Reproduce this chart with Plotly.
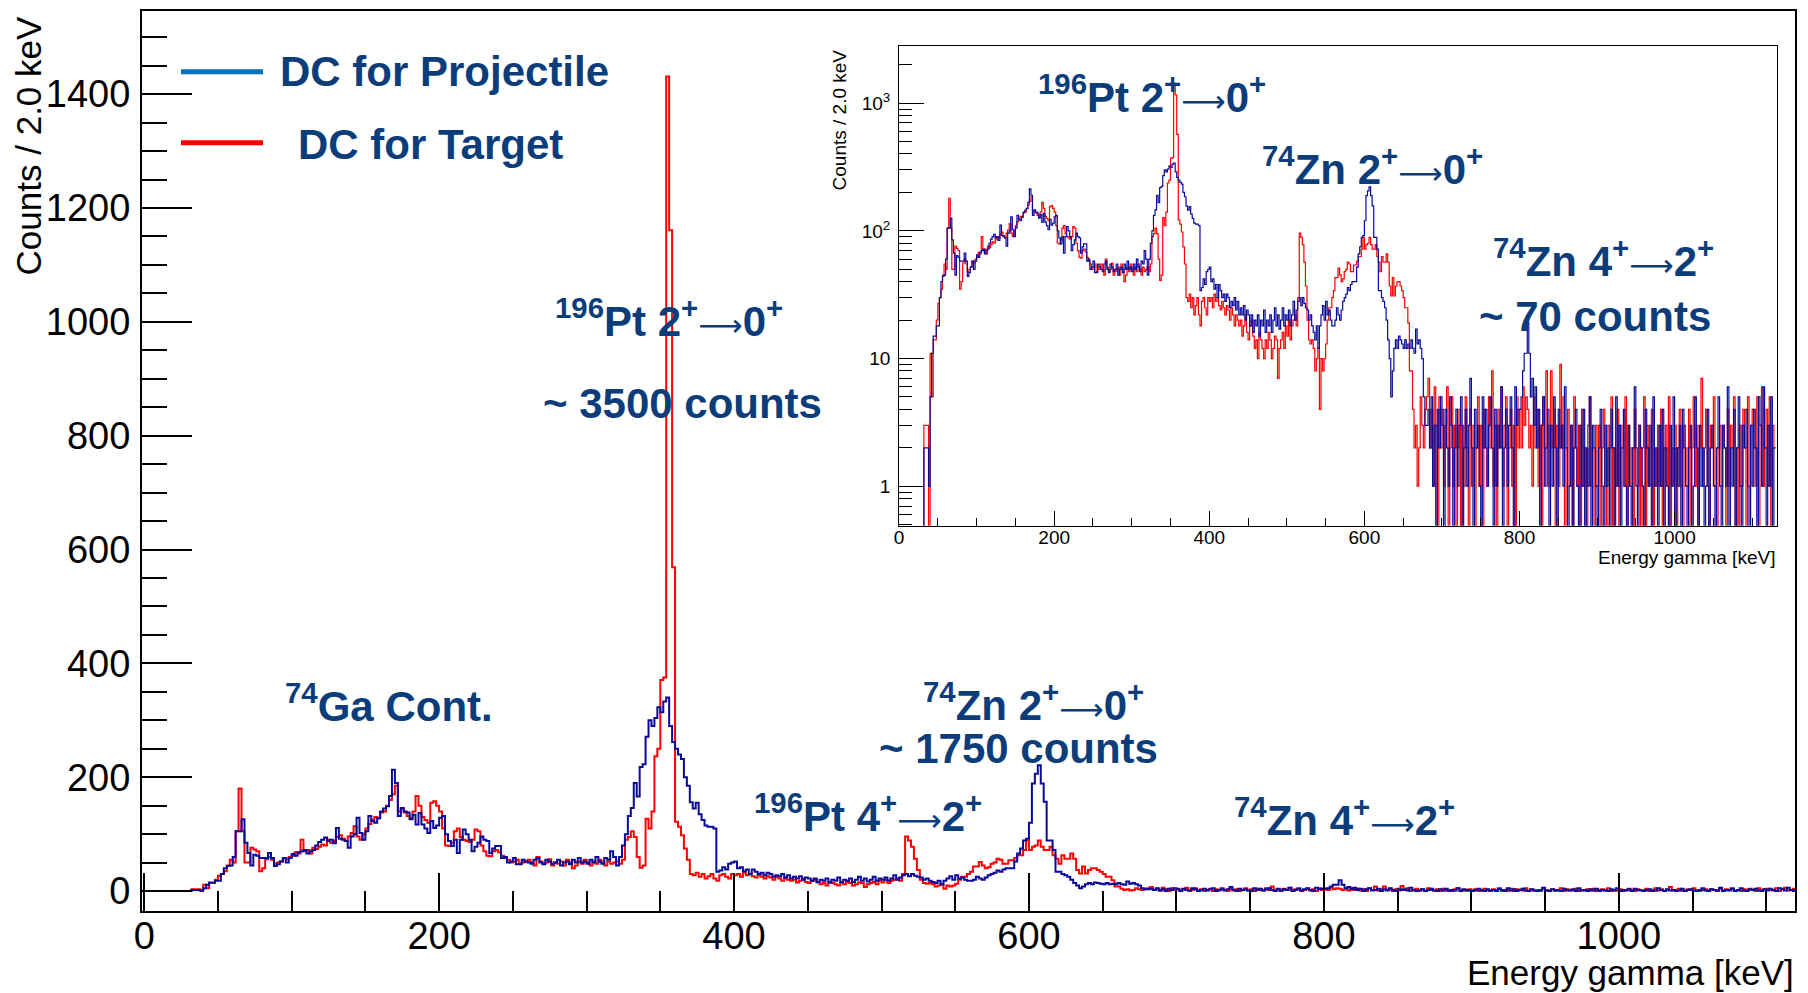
import plotly.graph_objects as go

# ---------------- data (2 keV bins, 0 .. 1130 keV) ----------------
BIN_KEV = 2
# DC for Projectile (blue)
projectile = [
    0, 0, 0, 0, 0, 0, 0, 0, 0, 0,
    0, 0, 0, 0, 0, 0, 2, 2, 2, 1,
    5, 11, 15, 15, 18, 18, 30, 40, 44, 45,
    60, 105, 105, 126, 85, 67, 45, 64, 62, 58,
    58, 58, 67, 58, 44, 47, 52, 58, 50, 58,
    65, 62, 68, 70, 72, 66, 70, 72, 80, 86,
    90, 94, 88, 90, 84, 111, 92, 90, 88, 76,
    96, 100, 129, 102, 90, 105, 132, 123, 120, 128,
    140, 145, 149, 167, 213, 190, 132, 146, 140, 138,
    126, 134, 117, 137, 117, 110, 102, 123, 111, 115,
    129, 132, 100, 88, 79, 90, 67, 90, 108, 100,
    90, 70, 78, 85, 96, 90, 88, 67, 75, 79,
    79, 58, 60, 50, 52, 58, 47, 47, 55, 52,
    50, 48, 55, 58, 50, 47, 55, 52, 48, 50,
    55, 45, 50, 52, 47, 55, 50, 58, 50, 52,
    48, 55, 50, 60, 52, 48, 58, 55, 70, 60,
    45, 60, 80, 100, 132, 146, 190, 166, 218, 223,
    271, 300, 290, 304, 323, 314, 333, 340, 290, 262,
    250, 240, 232, 200, 185, 156, 145, 155, 135, 125,
    115, 113, 113, 110, 34, 36, 42, 38, 48, 50,
    52, 40, 42, 35, 38, 30, 38, 34, 30, 32,
    28, 32, 30, 25, 28, 26, 30, 24, 28, 22,
    25, 22, 26, 20, 24, 22, 18, 22, 16, 20,
    18, 22, 15, 20, 18, 24, 16, 20, 18, 22,
    16, 20, 25, 18, 22, 17, 20, 25, 18, 22,
    20, 24, 18, 22, 28, 20, 24, 28, 30, 26,
    30, 27, 25, 24, 20, 22, 18, 16, 14, 18,
    12, 18, 22, 26, 20, 28, 22, 24, 20, 18,
    18, 20, 25, 22, 20, 24, 28, 30, 32, 36,
    34, 38, 40, 40, 40, 52, 66, 75, 89, 92,
    120, 189, 206, 221, 189, 157, 89, 89, 72, 34,
    34, 30, 28, 25, 20, 14, 10, 5, 8, 12,
    14, 12, 15, 14, 13, 12, 14, 12, 13, 12,
    14, 12, 11, 17, 13, 14, 12, 10, 5, 3,
    3, 4, 2, 5, 1, 3, 0, 4, 2, 5,
    3, 0, 4, 2, 1, 5, 3, 0, 2, 4,
    1, 3, 5, 0, 2, 4, 1, 3, 7, 2,
    0, 4, 2, 3, 1, 0, 5, 2, 4, 1,
    3, 5, 2, 0, 4, 1, 3, 2, 6, 0,
    2, 4, 1, 3, 5, 2, 0, 6, 3, 4,
    4, 5, 8, 11, 11, 19, 11, 5, 7, 3,
    6, 2, 4, 0, 3, 5, 1, 2, 4, 0,
    3, 1, 5, 2, 0, 4, 2, 3, 1, 6,
    2, 0, 1, 3, 0, 2, 4, 1, 0, 3,
    1, 4, 0, 2, 1, 5, 0, 3, 2, 1,
    0, 2, 4, 1, 0, 3, 1, 2, 0, 4,
    2, 0, 5, 1, 3, 0, 2, 4, 1, 0,
    3, 1, 0, 2, 6, 1, 0, 3, 2, 1,
    0, 4, 2, 1, 3, 0, 5, 1, 2, 0,
    3, 1, 4, 0, 2, 1, 0, 3, 1, 5,
    0, 2, 1, 3, 0, 4, 2, 1, 0, 2,
    3, 0, 1, 5, 2, 0, 3, 1, 2, 0,
    1, 4, 0, 2, 3, 1, 0, 2, 5, 1,
    0, 3, 2, 1, 6, 0, 2, 1, 4, 0,
    2, 5, 1, 0, 3, 2, 4, 1, 0, 3,
    1, 4, 2, 0, 5, 3, 1, 6, 2, 0,
    3, 1, 5, 0, 2,
]
# DC for Target (red)
target = [
    0, 0, 0, 0, 0, 0, 0, 0, 0, 0,
    0, 0, 0, 0, 0, 0, 3, 3, 3, 0,
    11, 5, 14, 14, 20, 27, 30, 35, 45, 55,
    50, 105, 180, 105, 50, 50, 76, 73, 70, 35,
    40, 56, 60, 55, 48, 50, 52, 58, 56, 60,
    62, 68, 66, 90, 70, 72, 66, 76, 74, 78,
    82, 80, 90, 85, 88, 95, 98, 92, 88, 96,
    102, 114, 96, 90, 100, 110, 118, 125, 130, 128,
    138, 140, 150, 160, 170, 185, 140, 145, 138, 132,
    128, 140, 167, 150, 130, 125, 120, 155, 158, 150,
    140, 110, 80, 79, 85, 105, 110, 95, 90, 88,
    86, 90, 108, 105, 80, 70, 62, 61, 70, 72,
    68, 62, 58, 55, 50, 52, 55, 48, 50, 52,
    55, 50, 45, 60, 52, 48, 50, 56, 45, 50,
    48, 52, 45, 55, 50, 40, 45, 52, 48, 55,
    50, 45, 52, 48, 55, 50, 45, 52, 48, 50,
    52, 48, 55, 90, 95, 105, 95, 60, 41, 45,
    127, 110, 140, 237, 250, 371, 375, 1431, 1161, 569,
    122, 113, 98, 75, 55, 30, 28, 32, 25, 30,
    22, 26, 30, 22, 18, 28, 30, 25, 22, 30,
    28, 30, 25, 32, 28, 30, 26, 24, 28, 25,
    22, 26, 24, 20, 25, 22, 18, 22, 20, 18,
    20, 15, 18, 22, 16, 14, 18, 20, 15, 12,
    14, 10, 16, 14, 12, 10, 14, 12, 16, 14,
    10, 12, 15, 14, 7, 12, 14, 16, 12, 18,
    15, 20, 14, 18, 20, 22, 18, 30, 96, 89,
    78, 57, 37, 20, 14, 13, 14, 12, 8, 10,
    12, 4, 10, 8, 10, 13, 20, 25, 25, 30,
    34, 43, 43, 51, 45, 40, 42, 48, 50, 57,
    55, 48, 48, 54, 54, 58, 63, 63, 72, 89,
    72, 78, 80, 89, 78, 72, 72, 78, 63, 57,
    48, 63, 57, 57, 66, 57, 37, 31, 43, 31,
    37, 40, 40, 37, 34, 30, 25, 25, 19, 8,
    8, 4, 2, 3, 1, 2, 5, 3, 2, 4,
    5, 7, 2, 4, 1, 6, 3, 0, 5, 2,
    4, 1, 3, 6, 0, 2, 5, 1, 3, 0,
    2, 4, 0, 3, 1, 5, 2, 0, 4, 1,
    3, 0, 2, 5, 1, 3, 0, 4, 2, 1,
    5, 2, 8, 1, 3, 0, 4, 2, 6, 1,
    3, 5, 0, 2, 4, 1, 3, 0, 5, 2,
    4, 2, 6, 3, 5, 4, 2, 3, 1, 5,
    2, 4, 1, 3, 0, 5, 2, 8, 1, 3,
    8, 2, 4, 0, 3, 1, 9, 2, 5, 0,
    2, 4, 1, 3, 0, 5, 2, 1, 3, 0,
    4, 1, 2, 0, 3, 5, 1, 2, 0, 3,
    1, 3, 0, 2, 4, 1, 0, 3, 2, 5,
    0, 2, 1, 4, 0, 3, 2, 1, 5, 0,
    3, 1, 2, 0, 4, 2, 1, 3, 0, 2,
    5, 0, 3, 1, 2, 4, 0, 2, 1, 3,
    1, 4, 0, 2, 3, 1, 5, 0, 2, 1,
    3, 0, 2, 4, 1, 0, 3, 2, 1, 4,
    0, 2, 5, 1, 3, 0, 2, 7, 1, 2,
    4, 1, 0, 3, 2, 5, 1, 0, 2, 3,
    1, 3, 2, 0, 4, 1, 3, 2, 5, 0,
    2, 0, 3, 1, 4, 2, 0, 5, 1, 3,
    4, 2, 1, 5, 0, 3, 6, 1, 2, 4,
    1, 5, 0, 3, 2,
]

main_xticks = [0, 200, 400, 600, 800, 1000]
inset_yticks = [1, 10, 100, 1000]
inset_yticktext = ["1", "10", "10<sup>2</sup>", "10<sup>3</sup>"]
inset_yminor = [m * d for d in (0.1, 1, 10, 100, 1000) for m in range(2, 10)]

BLUE_H = "#0a0a9a"
RED_H = "#ff0000"
TXT = "#0b3d7a"
FONT = "Liberation Sans, Arial, Helvetica, sans-serif"
ARROW = '<span style="font-family:DejaVu Sans;font-weight:normal;font-size:31px">⟶</span>'


def steps(vals):
    edges = [i * BIN_KEV for i in range(len(vals) + 1)]
    return edges, list(vals) + [vals[-1]]


fig = go.Figure()
for vals, col in ((target, RED_H), (projectile, BLUE_H)):
    xs, ys = steps(vals)
    fig.add_trace(go.Scatter(x=xs, y=ys, mode="lines", line=dict(shape="hv", color=col, width=2),
                             xaxis="x", yaxis="y", hoverinfo="skip", showlegend=False))
for vals, col in ((target, RED_H), (projectile, BLUE_H)):
    xs, ys = steps(vals)
    ys = [v if v > 0 else 0.1 for v in ys]
    fig.add_trace(go.Scatter(x=xs, y=ys, mode="lines", line=dict(shape="hv", color=col, width=1.2),
                             xaxis="x2", yaxis="y2", hoverinfo="skip", showlegend=False))

axcommon = dict(showgrid=False, zeroline=False, showline=True, linecolor="black", mirror=True,
                ticks="inside", tickcolor="black")

fig.update_layout(
    width=1808, height=993,
    margin=dict(l=142, r=13, t=9, b=82),
    paper_bgcolor="white", plot_bgcolor="white",
    font=dict(family=FONT, color="black"),
    showlegend=False,
    xaxis=dict(**axcommon, range=[-1.5, 1119.5], tickvals=main_xticks, ticklen=38, tickwidth=2,
               linewidth=2, tickfont=dict(size=38), ticklabelstandoff=-10,
               minor=dict(ticks="inside", dtick=50, tick0=0, ticklen=20, tickwidth=2, tickcolor="black")),
    yaxis=dict(**axcommon, range=[-35, 1546], tick0=0, dtick=200, ticklen=50, tickwidth=2,
               linewidth=2, tickfont=dict(size=38), ticklabelstandoff=2,
               minor=dict(ticks="inside", dtick=50, tick0=0, ticklen=25, tickwidth=2, tickcolor="black")),
    xaxis2=dict(**axcommon, domain=[0.458, 0.9891], anchor="y2", range=[0, 1132], tickvals=main_xticks,
                ticklen=15, tickwidth=1, linewidth=1, tickfont=dict(size=19), ticklabelstandoff=-6,
                minor=dict(ticks="inside", dtick=50, tick0=0, ticklen=8, tickwidth=1, tickcolor="black")),
    yaxis2=dict(**axcommon, domain=[0.428, 0.961], anchor="x2", type="log", range=[-0.31, 3.447],
                tickvals=inset_yticks, ticktext=inset_yticktext, ticklen=25, tickwidth=1, linewidth=1,
                tickfont=dict(size=19), ticklabelstandoff=4,
                minor=dict(ticks="inside", tickvals=inset_yminor, ticklen=13, tickwidth=1, tickcolor="black")),
)

ann = []
# axis titles
ann.append(dict(text="Counts / 2.0 keV", xref="paper", yref="paper", x=-0.0684, y=0.9967,
                xanchor="center", yanchor="top", textangle=-90, showarrow=False,
                font=dict(size=35, color="black")))
ann.append(dict(text="Energy gamma [keV]", xref="paper", yref="paper", x=1.0, y=-0.0679,
                xanchor="right", yanchor="middle", showarrow=False, borderpad=0,
                font=dict(size=35, color="black")))
ann.append(dict(text="Counts / 2.0 keV", xref="paper", yref="paper", x=0.4217, y=0.959,
                xanchor="center", yanchor="top", textangle=-90, showarrow=False,
                font=dict(size=19, color="black")))
ann.append(dict(text="Energy gamma [keV]", xref="paper", yref="paper", x=0.9891, y=0.3925,
                xanchor="right", yanchor="middle", showarrow=False, font=dict(size=19, color="black")))

bold = dict(size=42, color=TXT, family="Liberation Sans, Arial")
# legend
ann.append(dict(text="<b>DC for Projectile</b>", xref="paper", yref="paper", x=0.0823, y=0.9324,
                xanchor="left", yanchor="middle", showarrow=False, font=bold))
ann.append(dict(text="<b>DC for Target</b>", xref="paper", yref="paper", x=0.0932, y=0.8514,
                xanchor="left", yanchor="middle", showarrow=False, font=bold))


def level(nuc, a, ji, jf):
    return f"<b><sup>{a}</sup>{nuc} {ji}<sup>+</sup>{ARROW}{jf}<sup>+</sup></b>"


labels_main = [
    (level("Pt", 196, 2, 0), 356, 1007),
    ("<b>~ 3500 counts</b>", 365, 857),
    ("<b><sup>74</sup>Ga Cont.</b>", 166, 331),
    (level("Zn", 74, 2, 0), 603, 333),
    ("<b>~ 1750 counts</b>", 593, 250),
    (level("Pt", 196, 4, 2), 491, 137),
    (level("Zn", 74, 4, 2), 814, 131),
]
for t, x, y in labels_main:
    ann.append(dict(text=t, xref="x", yref="y", x=x, y=y, xanchor="center", yanchor="middle",
                    showarrow=False, font=bold))
labels_inset = [
    (level("Pt", 196, 2, 0), 326, 3.074),
    (level("Zn", 74, 2, 0), 610, 2.51),
    (level("Zn", 74, 4, 2), 908, 1.79),
    ("<b>~ 70 counts</b>", 897, 1.33),
]
for t, x, y in labels_inset:
    ann.append(dict(text=t, xref="x2", yref="y2", x=x, y=y, xanchor="center", yanchor="middle",
                    showarrow=False, font=bold))
fig.update_layout(annotations=ann)

fig.update_layout(shapes=[
    dict(type="line", xref="paper", yref="paper", x0=0.0236, x1=0.0732, y0=0.9324, y1=0.9324,
         line=dict(color="#0070c0", width=5)),
    dict(type="line", xref="paper", yref="paper", x0=0.0236, x1=0.0732, y0=0.8537, y1=0.8537,
         line=dict(color="#ff0000", width=5)),
])

fig.write_html("out.html")
